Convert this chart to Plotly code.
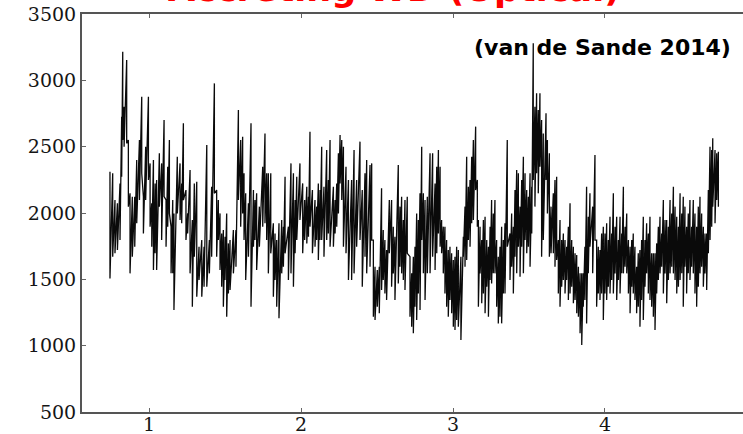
import plotly.graph_objects as go

# Optical light curve of an accreting white dwarf: for each time bin the
# upper and lower excursion of the flux are kept (min/max envelope).
time = [
    0.743, 0.761, 0.776, 0.792, 0.809, 0.820, 0.827, 0.836, 0.853, 0.864,
    0.875, 0.890, 0.906, 0.919, 0.937, 0.952, 0.963, 0.978, 0.996, 1.007,
    1.018, 1.029, 1.040, 1.050, 1.068, 1.083, 1.099, 1.112, 1.123, 1.134,
    1.145, 1.156, 1.164, 1.186, 1.204, 1.215, 1.226, 1.243, 1.254, 1.270,
    1.285, 1.298, 1.314, 1.329, 1.347, 1.362, 1.380, 1.397, 1.412, 1.430,
    1.445, 1.456, 1.467, 1.478, 1.489, 1.500, 1.511, 1.522, 1.533, 1.555,
    1.572, 1.588, 1.603, 1.616, 1.625, 1.636, 1.654, 1.671, 1.687, 1.697,
    1.708, 1.726, 1.748, 1.763, 1.774, 1.785, 1.801, 1.818, 1.829, 1.840,
    1.855, 1.873, 1.884, 1.895, 1.917, 1.934, 1.950, 1.961, 1.972, 1.993,
    2.011, 2.024, 2.038, 2.049, 2.059, 2.075, 2.092, 2.103, 2.114, 2.125,
    2.136, 2.151, 2.169, 2.180, 2.191, 2.213, 2.224, 2.235, 2.246, 2.257,
    2.268, 2.279, 2.296, 2.312,
    2.333, 2.349, 2.366, 2.388, 2.403, 2.421, 2.432, 2.454, 2.465, 2.476,
    2.487, 2.502, 2.515, 2.530, 2.541, 2.552, 2.563, 2.581, 2.596, 2.607,
    2.618, 2.640, 2.651, 2.662, 2.673, 2.684, 2.699, 2.717, 2.728, 2.739,
    2.750, 2.761, 2.772, 2.783, 2.794, 2.805, 2.816, 2.831, 2.849, 2.866,
    2.882, 2.893, 2.904, 2.915, 2.925, 2.936, 2.947, 2.958, 2.969, 2.980,
    2.991, 3.002, 3.013, 3.024, 3.035, 3.052, 3.068, 3.079, 3.090, 3.101,
    3.112, 3.123, 3.134, 3.149, 3.160, 3.167, 3.178, 3.189, 3.200, 3.211,
    3.222, 3.233, 3.244, 3.254, 3.265, 3.276, 3.287, 3.298, 3.309, 3.320,
    3.331, 3.342, 3.357, 3.375, 3.386, 3.397, 3.408, 3.419, 3.430, 3.441,
    3.452, 3.463, 3.474, 3.485, 3.496, 3.507, 3.518, 3.528, 3.539, 3.550,
    3.561, 3.572, 3.583, 3.594, 3.612, 3.621, 3.634, 3.645, 3.660, 3.671,
    3.682, 3.693, 3.704, 3.715, 3.726, 3.737, 3.748, 3.759, 3.770, 3.781,
    3.792, 3.803, 3.814, 3.825, 3.836, 3.847, 3.857, 3.868, 3.879, 3.890,
    3.901, 3.919, 3.934, 3.945, 3.956, 3.967, 3.978, 3.989, 4.000, 4.011,
    4.022, 4.033, 4.044, 4.055, 4.066, 4.077, 4.088, 4.099, 4.110, 4.121,
    4.132, 4.143, 4.154, 4.165, 4.176, 4.186, 4.197, 4.208, 4.219, 4.230,
    4.241, 4.252, 4.263, 4.274, 4.285, 4.296, 4.307, 4.318, 4.329, 4.340,
    4.351, 4.362, 4.373, 4.384, 4.395, 4.406, 4.417, 4.428, 4.439, 4.450,
    4.461, 4.472, 4.483, 4.494, 4.505, 4.515, 4.526, 4.537, 4.548, 4.559,
    4.570, 4.581, 4.592, 4.603, 4.614, 4.625, 4.636, 4.647, 4.658, 4.669,
    4.680, 4.691, 4.702, 4.709, 4.724, 4.735, 4.746,
]

peak = [
    2311, 2299, 2098, 2073, 2223, 2726, 3216, 2801, 3153, 2550,
    2148, 2123, 2123, 2399, 2550, 2877, 2123, 2500, 2877, 2374,
    2073, 2399, 2223, 2249, 2450, 2374, 2701, 2098, 2349, 2550,
    1897, 2098, 1997, 2424, 2374, 2223, 2676, 2173, 1997, 2324,
    1947, 2223, 2236, 1746, 1796, 1746, 2512, 1796, 2198, 2977,
    2173, 2098, 1997, 1846, 1872, 1821, 1997, 1771, 1796, 1872,
    1872, 2776, 2550, 2575, 2299, 2148, 2073, 2676, 2173, 2098,
    2148, 2048, 2349, 2600, 2299, 2299, 2299, 1922, 1846, 1796,
    1922, 1947, 1897, 2274, 1897, 2374, 2299, 2098, 2274, 2374,
    2223, 2098, 2198, 2123, 2613, 2173, 2098, 2048, 2223, 2173,
    2500, 2198, 2475, 2249, 2550, 2198, 2098, 2223, 2450, 2588,
    2550, 2500, 2349, 2249,
    2249, 2475, 2249, 2538, 2173, 2299, 2399, 2362, 2374, 1796,
    1595, 1570, 1595, 2186, 1872, 1796, 1721, 2098, 2098, 1897,
    1821, 2362, 2048, 2123, 1947, 2098, 2123, 1671, 1545, 1671,
    1746, 1997, 1947, 2148, 2500, 2148, 2098, 2123, 2450, 2450,
    2223, 2349, 2475, 2349, 1947, 1897, 1897, 1796, 1721, 1746,
    1696, 1646, 1671, 1746, 1721, 1671, 1821, 2048, 2424, 2198,
    2249, 2424, 2550, 2651, 2249, 1947, 1897, 1796, 1947, 1972,
    1796, 1746, 1897, 2098, 1997, 2098, 1796, 1671, 1746, 1897,
    1796, 1922, 2550, 1846, 1997, 1897, 2173, 2324, 2299, 2048,
    2249, 2424, 2299, 2173, 2123, 2299, 2198, 3279, 2801, 2902,
    2776, 2902, 2701, 2600, 2751, 2550, 2450, 2048, 2148, 2249,
    2274, 1796, 1947, 1796, 1846, 1796, 1746, 1897, 2073, 1796,
    1746, 1696, 1683, 1595, 1545, 1545, 1545, 1746, 2198, 1972,
    2148, 2048, 2437, 1796, 1746, 1721, 1846, 1897, 1846, 1922,
    1796, 1972, 1846, 2148, 1897, 1972, 1796, 1972, 1846, 2198,
    1897, 1997, 1796, 1746, 1796, 1846, 1746, 1595, 1696, 1721,
    1796, 1972, 1796, 1922, 1846, 1972, 1696, 1696, 1696, 1771,
    1897, 1972, 1846, 2098, 1947, 1947, 1897, 2098, 1997, 2198,
    2048, 1972, 1897, 2148, 1997, 2123, 2048, 1897, 1997, 2098,
    1897, 2098, 1997, 1897, 2048, 2123, 1997, 1897, 1846, 1846,
    2173, 2500, 2475, 2563, 2475, 2450, 2462,
]

trough = [
    1507, 1671, 1696, 1721, 1796, 2274, 2550, 2500, 2525, 2048,
    1545, 1671, 1746, 1922, 2098, 2299, 1846, 2098, 2249, 1897,
    1746, 1570, 1696, 1570, 2048, 1796, 2123, 1746, 1897, 1997,
    1545, 1545, 1269, 1997, 1947, 1922, 2098, 1796, 1846, 1545,
    1294, 1671, 1369, 1495, 1369, 1444, 1444, 1545, 1671, 2148,
    1671, 1796, 1570, 1444, 1294, 1495, 1218, 1394, 1419, 1545,
    1595, 2098, 1897, 1997, 1796, 1495, 1671, 1294, 1746, 1796,
    1570, 1746, 1897, 1922, 1796, 1545, 1696, 1369, 1495, 1294,
    1206, 1545, 1595, 1696, 1495, 1545, 1444, 1696, 1796, 1947,
    1696, 1796, 1771, 1821, 1897, 1696, 1746, 1796, 1646, 1796,
    1796, 1671, 1796, 1846, 1746, 1746, 1846, 1897, 1997, 2223,
    2098, 1746, 1696, 1495,
    1495, 1545, 1746, 1796, 1444, 1671, 1545, 1595, 1796, 1218,
    1193, 1294, 1244, 1419, 1495, 1394, 1344, 1696, 1444, 1545,
    1344, 1469, 1595, 1545, 1495, 1419, 1696, 1218, 1143, 1093,
    1294, 1193, 1394, 1269, 1796, 1545, 1344, 1545, 1545, 1671,
    1570, 1696, 1846, 1746, 1696, 1545, 1394, 1294, 1218, 1344,
    1244, 1143, 1118, 1193, 1143, 1042, 1671, 1595, 1646, 1796,
    1746, 1922, 1947, 2173, 1897, 1294, 1545, 1319, 1394, 1244,
    1444, 1218, 1495, 1469, 1545, 1545, 1294, 1168, 1218, 1168,
    1394, 1394, 1746, 1495, 1595, 1394, 1671, 1545, 1746, 1520,
    1746, 1545, 1796, 1696, 1746, 1595, 1846, 2249, 2048, 2299,
    2148, 2349, 1671, 1796, 2249, 1997, 1671, 1696, 1696, 1595,
    1646, 1394, 1294, 1444, 1495, 1394, 1495, 1344, 1394, 1444,
    1319, 1344, 1244, 1218, 1093, 1005, 1294, 1344, 1168, 1545,
    1746, 1545, 1796, 1294, 1394, 1344, 1394, 1193, 1394, 1344,
    1444, 1394, 1495, 1394, 1545, 1344, 1495, 1394, 1545, 1545,
    1595, 1545, 1394, 1244, 1444, 1394, 1344, 1244, 1294, 1143,
    1344, 1193, 1444, 1545, 1394, 1344, 1294, 1218, 1118, 1394,
    1495, 1545, 1595, 1394, 1545, 1319, 1495, 1545, 1595, 1545,
    1495, 1394, 1444, 1495, 1545, 1294, 1595, 1394, 1545, 1495,
    1595, 1545, 1394, 1294, 1444, 1545, 1595, 1444, 1545, 1419,
    1696, 1796, 1897, 2048, 1922, 2098, 2048,
]

y_ticks = [500, 1000, 1500, 2000, 2500, 3000, 3500]
x_ticks = [1, 2, 3, 4]

title_text = "Accreting WD (Optical)"
source_text = "(van de Sande 2014)"

# Trace the envelope as a continuous zig-zag: peak then trough in each bin.
xs, ys = [], []
for t, hi, lo in zip(time, peak, trough):
    xs += [t, t]
    ys += [hi, lo]

fig = go.Figure(
    go.Scatter(
        x=xs, y=ys, mode="lines",
        line=dict(color="#0a0a0a", width=1.3),
        hoverinfo="skip",
    )
)

axis_font = dict(family="DejaVu Serif", size=19, color="#151515")

fig.update_layout(
    width=743, height=434,
    margin=dict(l=82, r=0, t=14, b=22),
    paper_bgcolor="white", plot_bgcolor="white",
    showlegend=False,
    xaxis=dict(
        range=[0.559, 4.908], automargin=False,
        tickvals=x_ticks, ticktext=[str(v) for v in x_ticks],
        ticks="inside", ticklen=4, tickwidth=1, tickcolor="#666666",
        ticklabelstandoff=-6,
        showline=True, linecolor="#555555", linewidth=2, mirror="ticks",
        showgrid=False, zeroline=False, tickfont=axis_font,
    ),
    yaxis=dict(
        range=[500, 3500], automargin=False,
        tickvals=y_ticks, ticktext=[str(v) for v in y_ticks],
        ticks="inside", ticklen=4, tickwidth=1, tickcolor="#666666",
        showline=True, linecolor="#555555", linewidth=2, mirror=False,
        showgrid=False, zeroline=False, tickfont=axis_font,
    ),
    annotations=[
        dict(
            text="<b>" + title_text + "</b>",
            xref="paper", yref="paper", x=0.472, y=1.008,
            xanchor="center", yanchor="bottom", showarrow=False,
            font=dict(family="DejaVu Sans", size=35, color="#ff0000"),
        ),
        dict(
            text="<b>" + source_text + "</b>",
            xref="paper", yref="paper", x=0.788, y=0.917,
            xanchor="center", yanchor="middle", showarrow=False,
            font=dict(family="DejaVu Sans", size=22, color="#000000"),
        ),
    ],
)

fig.write_html("out.html")
